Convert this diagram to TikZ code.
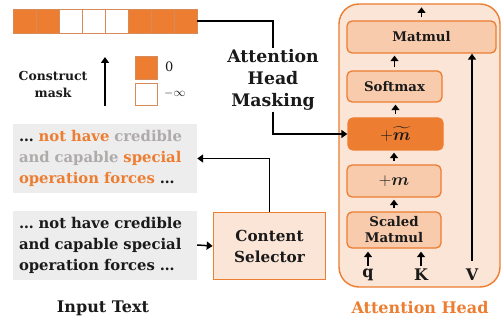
\documentclass[tikz,border=0pt]{standalone}
\usepackage{amsmath,bm}
\usepackage{fontspec}
\setmainfont{DejaVu Serif}
\usetikzlibrary{arrows.meta,positioning}
\definecolor{org}{HTML}{ED7D31}
\definecolor{orgd}{HTML}{C55A11}
\definecolor{lfill}{HTML}{FBE5D6}
\definecolor{mfill}{HTML}{F8CBAD}
\definecolor{gbox}{HTML}{EDEDED}
\definecolor{gtxt}{HTML}{AFABAB}
\definecolor{dtxt}{HTML}{1A1A1A}
\tikzset{
  cellO/.style={draw=orgd!70, line width=0.6pt, fill=org, minimum width=23, minimum height=24, inner sep=0, anchor=center},
  cellW/.style={draw=orgd!70, line width=0.6pt, fill=white, minimum width=23, minimum height=24, inner sep=0, anchor=center},
  lbl/.style={font=\bfseries\fontsize{16}{20}\selectfont, text=dtxt, align=center, inner sep=1pt},
  gbg/.style={fill=gbox, minimum width=184, minimum height=69, inner sep=0pt},
  gtext/.style={align=left, inner sep=0pt, text width=172, font=\bfseries\fontsize{14.8}{21}\selectfont, text=dtxt},
  ibox/.style={draw=org, line width=1.3pt, fill=mfill, rounded corners=5, inner sep=0, font=\bfseries\fontsize{13.3}{16}\selectfont, text=dtxt, align=center},
  arr/.style={-{Triangle[length=6pt,width=8pt]}, line width=1.5pt, black},
  sarr/.style={-{Triangle[length=5.5pt,width=8pt]}, line width=1.4pt, black},
}
\begin{document}
\begin{tikzpicture}[x=1pt,y=-1pt]
\useasboundingbox (0,0) rectangle (502,320);
% mask bar
\node[cellO] (c1) at (24.5,21) {};
\node[cellO] (c2) at (47.5,21) {};
\node[cellW] (c3) at (70.5,21) {};
\node[cellW] (c4) at (93.5,21) {};
\node[cellW] (c5) at (116.5,21) {};
\node[cellO] (c6) at (139.5,21) {};
\node[cellO] (c7) at (162.5,21) {};
\node[cellO] (c8) at (185.5,21) {};
% construct mask
\node[lbl, font=\bfseries\fontsize{12.4}{17}\selectfont] (cm) at (53,84) {Construct\\mask};
\coordinate (cmb) at (105,106);
\coordinate (cmt) at (105,57);
\draw[arr] (cmb) -- (cmt);
% legend
\node[cellO, minimum width=22, minimum height=23] (lg0) at (146,68) {};
\node[cellW, minimum width=22, minimum height=22] (lgi) at (146,94) {};
\node[anchor=west, font=\fontsize{13}{15}\selectfont, text=dtxt, inner sep=0] (t0) at (165,67) {0};
\node[anchor=west, font=\fontsize{13}{15}\selectfont, text=dtxt, inner sep=0] (ti) at (164,94) {$-\infty$};
% attention head masking
\node[lbl, font=\bfseries\fontsize{17.3}{22}\selectfont] (ahm) at (273,80) {Attention\\Head\\Masking};
% text boxes
\node[gbg] (tb) at (105,158.5) {};
\node[gtext] (tbt) at (tb.center) {\textcolor{dtxt}{…} \textcolor{org}{not have} \textcolor{gtxt}{credible}\\\textcolor{gtxt}{and capable} \textcolor{org}{special}\\\textcolor{org}{operation forces} \textcolor{dtxt}{…}};
\node[gbg] (bb) at (105,245) {};
\node[gtext] (bbt) at (bb.center) {… not have credible\\and capable special\\operation forces …};
\node[ibox, fill=lfill, rounded corners=0, line width=1.6pt, minimum width=112, minimum height=67, font=\bfseries\fontsize{15.2}{21}\selectfont] (cs) at (269.5,246) {Content\\Selector};
\node[lbl] (it) at (103,308) {Input Text};
% attention head
\node[draw=org, line width=1.4pt, fill=lfill, rounded corners=20, minimum width=161, minimum height=283, inner sep=0] (ah) at (419.5,145.5) {};
\node[lbl, text=org] (aht) at (420,308) {Attention Head};
\node[ibox, minimum width=149, minimum height=32] (mm) at (421.5,37) {Matmul};
\node[ibox, minimum width=95, minimum height=31] (sm) at (394.5,86.5) {Softmax};
\node[ibox, fill=org, draw=org, minimum width=95, minimum height=32, font=\fontsize{16}{18}\selectfont] (mt) at (395.5,134) {$+\widetilde{\bm{m}}$};
\node[ibox, minimum width=94, minimum height=32, font=\fontsize{16}{18}\selectfont] (pm) at (394,181) {$+\bm{m}$};
\node[ibox, minimum width=94, minimum height=36, font=\bfseries\fontsize{13.3}{16}\selectfont] (sc) at (394,230) {Scaled\\Matmul};
\node[lbl, font=\bfseries\fontsize{16}{18}\selectfont] (q) at (368,275) {q};
\node[lbl, font=\bfseries\fontsize{16}{18}\selectfont] (k) at (421,275) {K};
\node[lbl, font=\bfseries\fontsize{16}{18}\selectfont] (v) at (472,275) {V};
\coordinate (top) at ([yshift=13pt]mm.north);
% arrows
\draw[sarr, shorten <=3pt, shorten >=2pt] (sc.north) -- (pm.south);
\draw[sarr, shorten <=3pt, shorten >=2pt] (pm.north) -- (pm.north |- mt.south);
\draw[sarr, shorten <=3pt, shorten >=2pt] (mt.north) -- (mt.north |- sm.south);
\draw[sarr, shorten <=3pt, shorten >=2pt] (sm.north) -- (sm.north |- mm.south);
\draw[sarr, shorten <=3pt] (mm.north) -- (top);
\draw[sarr, shorten <=2pt, shorten >=3pt] (q.north) -- (q.north |- sc.south);
\draw[sarr, shorten <=2pt, shorten >=3pt] (k.north) -- (k.north |- sc.south);
\draw[arr, shorten <=7pt, shorten >=0pt] (v.north) -- (v.north |- mm.south);
\draw[line width=1.5pt] (c8.east) -| (ahm.north);
\draw[arr] (ahm.south) |- (mt.west);
\draw[arr] (cs.north) |- (tb.east);
\draw[arr] (bb.east) -- (cs.west);
\end{tikzpicture}
\end{document}
